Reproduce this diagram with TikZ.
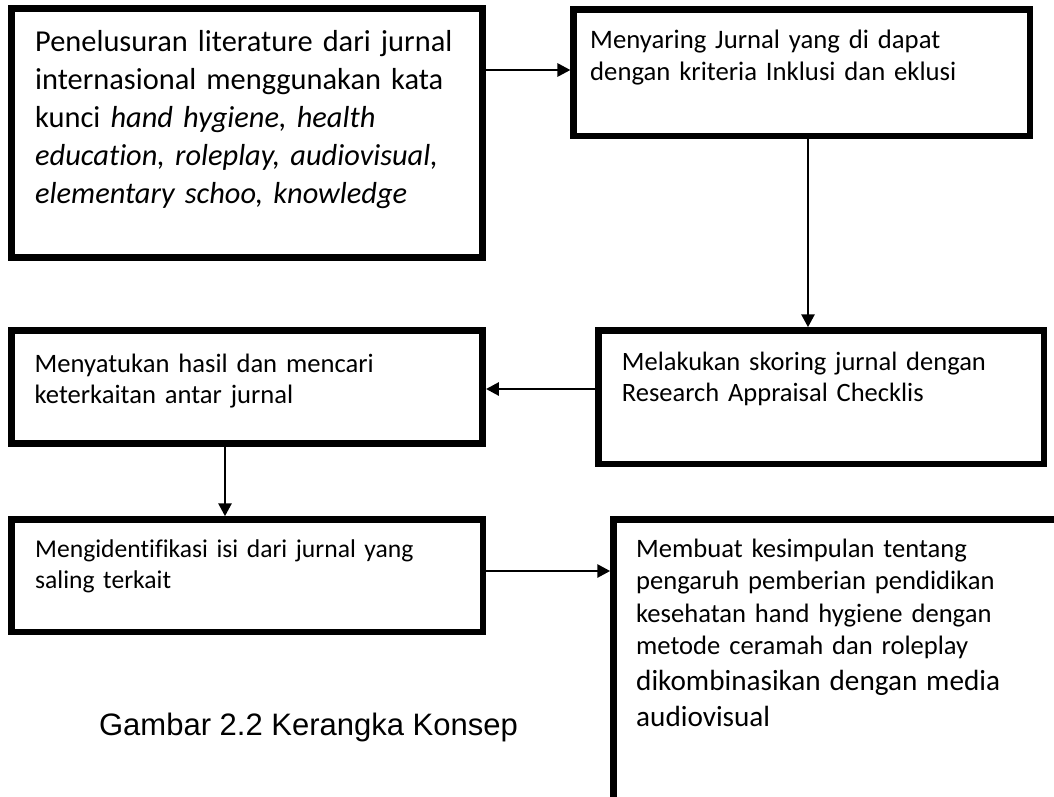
\documentclass[tikz,border=0pt]{standalone}
\usepackage{fontspec}
\setmainfont{Carlito}[Ligatures=NoCommon]
\newfontfamily\capfont{Liberation Sans}
\usetikzlibrary{arrows.meta}
\tikzset{
  box/.style={draw=black, line width=6.5pt, rectangle, inner sep=0pt, fill=white},
  txt/.style={anchor=north west, inner sep=0pt, align=left, text width=440pt},
  conn/.style={draw=black, line width=2.8pt, -{Triangle[length=13pt,width=13pt]}},
}
\begin{document}
\begin{tikzpicture}[x=1pt,y=-1pt]
\useasboundingbox (0,0) rectangle (1054,796);
\clip (0,0) rectangle (1054,796);
% boxes (stroke centre lines)
\node[box, minimum width=471pt, minimum height=249pt] (box1) at (247,133) {};
\node[box, minimum width=456.3pt, minimum height=126.1pt] (box2) at (801.85,72.75) {};
\node[box, minimum width=445.7pt, minimum height=133.7pt] (box3) at (821.15,397.35) {};
\node[box, minimum width=471.2pt, minimum height=113pt] (box4) at (247.1,387) {};
\node[box, minimum width=471.5pt, minimum height=112.5pt] (box5) at (247.25,575.75) {};
\node[box, minimum width=500pt, minimum height=400pt] (box6) at (863.5,719.5) {};
% texts (top = first baseline - 0.7 baselineskip)
\node[txt, font=\fontsize{30.4}{38}\selectfont] (t1) at (35,24.4) {\strut Penelusuran literature dari jurnal\\internasional menggunakan kata\\kunci \textit{hand hygiene, health}\\\textit{education, roleplay, audiovisual,}\\\textit{elementary schoo, knowledge}};
\node[txt, font=\fontsize{26.7}{31.5}\selectfont] (t2) at (590,26.45) {\strut Menyaring Jurnal yang di dapat\\dengan kriteria Inklusi dan eklusi};
\node[txt, font=\fontsize{26.5}{31.5}\selectfont] (t3) at (621.7,347.95) {\strut Melakukan skoring jurnal dengan\\Research Appraisal Checklis};
\node[txt, font=\fontsize{26.6}{31.5}\selectfont] (t4) at (34.5,349.95) {\strut Menyatukan hasil dan mencari\\keterkaitan antar jurnal};
\node[txt, font=\fontsize{25.6}{31.5}\selectfont] (t5) at (35,534.95) {\strut Mengidentifikasi isi dari jurnal yang\\saling terkait};
\node[txt, font=\fontsize{26.6}{32.5}\selectfont, text width=420pt] (t6) at (636,534.25) {\strut Membuat kesimpulan tentang\\pengaruh pemberian pendidikan\\kesehatan hand hygiene dengan\\metode ceramah dan roleplay\par
{\fontsize{29.2}{36}\selectfont dikombinasikan dengan media\\audiovisual\par}};
\node[anchor=base, inner sep=0pt, font=\capfont\fontsize{31}{37}\selectfont] (cap) at (308.5,735) {Gambar 2.2 Kerangka Konsep};
% connectors (yshift is upward on the canvas)
\draw[conn] ([yshift=63pt]box1.east) -- ([yshift=2.75pt]box2.west);
\draw[conn] ([xshift=6.15pt]box2.south) -- ([xshift=6.15pt]box2.south |- box3.north);
\draw[conn] ([yshift=8.35pt]box3.west) -- ([yshift=-2pt]box4.east);
\draw[conn] ([xshift=-22.1pt]box4.south) -- ([xshift=-22.1pt]box4.south |- box5.north);
\draw[conn] ([yshift=4.75pt]box5.east) -- ([yshift=4.75pt]box5.east -| box6.west);
\end{tikzpicture}
\end{document}
